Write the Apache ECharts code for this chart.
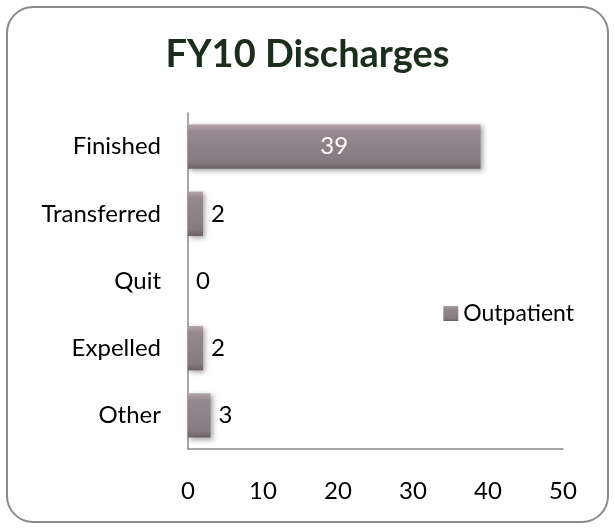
<!DOCTYPE html>
<html>
<head>
<meta charset="utf-8">
<script src="https://cdn.jsdelivr.net/npm/echarts@6/dist/echarts.min.js"></script>
<style>
  html, body { margin: 0; padding: 0; background: #fff; }
  #chart { width: 615px; height: 529px; }
</style>
</head>
<body>
<div id="chart"></div>
<script>
// 数据
var categories = ['Finished', 'Transferred', 'Quit', 'Expelled', 'Other'];
var outpatient = [39, 2, 0, 2, 3];
var xTicks = [0, 10, 20, 30, 40, 50];

var font = 'Lato, "Open Sans", sans-serif';

var chart = echarts.init(document.getElementById('chart'));

// bar fill, lighter on top edge, darker below
var barFill = new echarts.graphic.LinearGradient(0, 0, 0, 1, [
  { offset: 0, color: '#b3a4aa' },
  { offset: 0.15, color: '#978990' },
  { offset: 0.85, color: '#877980' },
  { offset: 1, color: '#6b5f64' }
]);

var barData = outpatient.map(function (v, i) {
  var item = { value: v };
  if (v >= 10) {
    item.label = { position: 'inside', color: '#fff' };
  }
  return item;
});

var option = {
  animation: false,
  backgroundColor: '#fff',
  graphic: [{
    type: 'rect',
    shape: { x: 7, y: 7, width: 601, height: 515, r: 26 },
    style: { fill: 'none', stroke: '#8a8a8a', lineWidth: 2 },
    z: -1
  }],
  title: {
    text: 'FY10 Discharges',
    left: 'center',
    top: 31,
    textStyle: { fontFamily: font, fontSize: 38, fontWeight: 'bold', color: '#1b2d1b' }
  },
  legend: {
    data: ['Outpatient'],
    right: 36,
    top: 297,
    itemWidth: 15,
    itemHeight: 15,
    icon: 'rect',
    itemGap: 5,
    textStyle: { fontFamily: font, fontSize: 23, color: '#000' }
  },
  grid: { left: 188, right: 52, top: 113, bottom: 80 },
  xAxis: {
    type: 'value',
    min: 0,
    max: 50,
    interval: 10,
    axisLine: { show: true, lineStyle: { color: '#8a8a8a', width: 1.5 } },
    axisTick: { show: false },
    splitLine: { show: false },
    axisLabel: { fontFamily: font, fontSize: 24, color: '#000', margin: 30 }
  },
  yAxis: {
    type: 'category',
    inverse: true,
    data: categories,
    axisLine: { show: true, lineStyle: { color: '#8a8a8a', width: 1.5 } },
    axisTick: { show: false },
    axisLabel: { fontFamily: font, fontSize: 24, color: '#000', margin: 27 }
  },
  series: [{
    name: 'Outpatient',
    type: 'bar',
    data: barData,
    barCategoryGap: '34%',
    itemStyle: {
      color: barFill,
      shadowColor: 'rgba(0,0,0,0.35)',
      shadowBlur: 5,
      shadowOffsetX: 2,
      shadowOffsetY: 2
    },
    label: {
      show: true,
      position: 'right',
      distance: 8,
      fontFamily: font,
      fontSize: 24,
      color: '#000'
    }
  }]
};

chart.setOption(option);
</script>
</body>
</html>
